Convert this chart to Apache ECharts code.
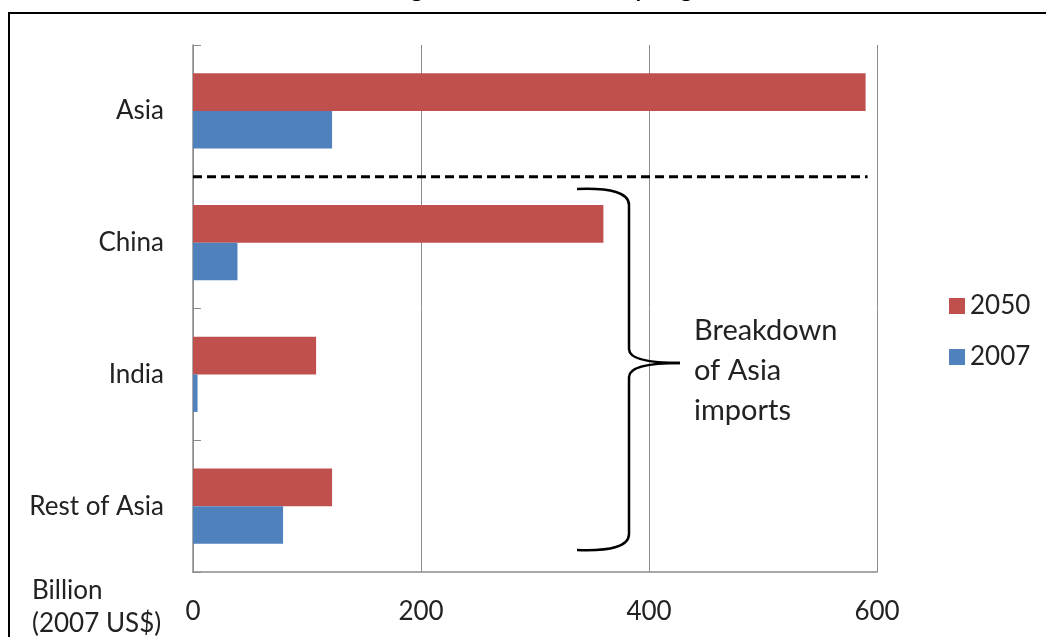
<!DOCTYPE html>
<html>
<head>
<meta charset="utf-8">
<script src="https://cdn.jsdelivr.net/npm/echarts@6/dist/echarts.min.js"></script>
<style>
  html, body { margin: 0; padding: 0; background: #fff; }
  #chart { width: 1046px; height: 637px; }
</style>
</head>
<body>
<div id="chart"></div>
<script>
// Import values, billion 2007 US$
const regions = ['Asia', 'China', 'India', 'Rest of Asia'];
const imports2050 = [590, 360, 108, 122];
const imports2007 = [122, 39, 4, 79];
const seriesNames = ['2050', '2007'];
const axisTicks = [0, 200, 400, 600];

const FONT = 'Lato, "Open Sans", sans-serif';
const RED = '#C0504D';
const BLUE = '#4F81BD';
const GRID_GRAY = '#8C8C8C';

const chart = echarts.init(document.getElementById('chart'), null, { renderer: 'canvas' });

const option = {
  animation: false,
  backgroundColor: '#ffffff',
  textStyle: { fontFamily: FONT },
  grid: { left: 193, top: 45, right: 169, bottom: 65, containLabel: false },
  legend: {
    orient: 'vertical',
    left: 944,
    top: 288,
    itemWidth: 16,
    itemHeight: 16,
    itemGap: 25,
    icon: 'rect',
    data: seriesNames,
    textStyle: { fontFamily: FONT, fontSize: 26, color: '#222' }
  },
  xAxis: {
    type: 'value',
    min: axisTicks[0],
    max: axisTicks[axisTicks.length - 1],
    interval: axisTicks[1] - axisTicks[0],
    axisLine: { show: true, lineStyle: { color: GRID_GRAY, width: 1.5 } },
    axisTick: { show: false },
    splitLine: { show: true, lineStyle: { color: GRID_GRAY, width: 1 } },
    axisLabel: { fontFamily: FONT, fontSize: 26, color: '#222', margin: 27 }
  },
  yAxis: {
    type: 'category',
    inverse: true,
    data: regions,
    axisLine: { show: true, lineStyle: { color: GRID_GRAY, width: 1.5 } },
    axisTick: { show: true, inside: true, length: 8, lineStyle: { color: GRID_GRAY } },
    splitLine: { show: false },
    axisLabel: { fontFamily: FONT, fontSize: 26, color: '#222', margin: 29 }
  },
  series: [
    {
      name: seriesNames[0],
      type: 'bar',
      data: imports2050,
      barGap: '0%',
      barCategoryGap: '43%',
      itemStyle: { color: RED }
    },
    {
      name: seriesNames[1],
      type: 'bar',
      data: imports2007,
      barGap: '0%',
      barCategoryGap: '43%',
      itemStyle: { color: BLUE }
    }
  ]
};

chart.setOption(option);

// Separator between the Asia total and its breakdown
const yAsia = chart.convertToPixel({ yAxisIndex: 0 }, regions[0]);
const yChina = chart.convertToPixel({ yAxisIndex: 0 }, regions[1]);
const sepY = (yAsia + yChina) / 2;
const x0 = chart.convertToPixel({ xAxisIndex: 0 }, 0);
const xEnd = chart.convertToPixel({ xAxisIndex: 0 }, imports2050[0]) + 2;

// Curly brace grouping the breakdown rows
const braceTop = 189, braceBot = 550, braceMid = 363;
const bxL = 577, bxS = 629, bxT = 680;
const braceStyle = { fill: 'none', stroke: '#000', lineWidth: 2.5 };
function curve(x1, y1, cx, cy, x2, y2) {
  return {
    type: 'bezierCurve',
    shape: { x1: x1, y1: y1, cpx1: cx, cpy1: cy, x2: x2, y2: y2 },
    style: braceStyle, z: 10, silent: true
  };
}
function seg(x1, y1, x2, y2) {
  return {
    type: 'line',
    shape: { x1: x1, y1: y1, x2: x2, y2: y2 },
    style: braceStyle, z: 10, silent: true
  };
}
const braceParts = [
  curve(bxL, braceTop, bxS, braceTop - 2, bxS, braceTop + 16),
  seg(bxS, braceTop + 16, bxS, braceMid - 14),
  curve(bxS, braceMid - 14, bxS, braceMid, bxT, braceMid),
  curve(bxT, braceMid, bxS, braceMid, bxS, braceMid + 14),
  seg(bxS, braceMid + 14, bxS, braceBot - 16),
  curve(bxS, braceBot - 16, bxS, braceBot + 2, bxL, braceBot)
];

chart.setOption({
  graphic: [
    {
      type: 'rect',
      shape: { x: 9, y: 13, width: 1100, height: 700 },
      style: { fill: 'none', stroke: '#000', lineWidth: 2 },
      silent: true
    },
    {
      type: 'text',
      x: 560,
      y: 1,
      style: {
        text: 'Agricultural Demand by Region',
        fontFamily: FONT,
        fontWeight: 'bold',
        fontSize: 24,
        fill: '#000',
        align: 'center',
        verticalAlign: 'bottom'
      },
      silent: true
    },
    {
      type: 'line',
      shape: { x1: x0, y1: sepY, x2: xEnd, y2: sepY },
      style: { stroke: '#000', lineWidth: 3, lineDash: [9, 5] },
      z: 10,
      silent: true
    }
  ].concat(braceParts).concat([
    {
      type: 'text',
      x: 694,
      y: 311,
      style: {
        text: 'Breakdown\nof Asia\nimports',
        fontFamily: FONT,
        fontSize: 29,
        lineHeight: 40,
        fill: '#222'
      },
      silent: true
    },
    {
      type: 'text',
      x: 32,
      y: 574,
      style: {
        text: 'Billion\n(2007 US$)',
        fontFamily: FONT,
        fontSize: 26,
        lineHeight: 33,
        fill: '#222'
      },
      silent: true
    }
  ])
});
</script>
</body>
</html>
